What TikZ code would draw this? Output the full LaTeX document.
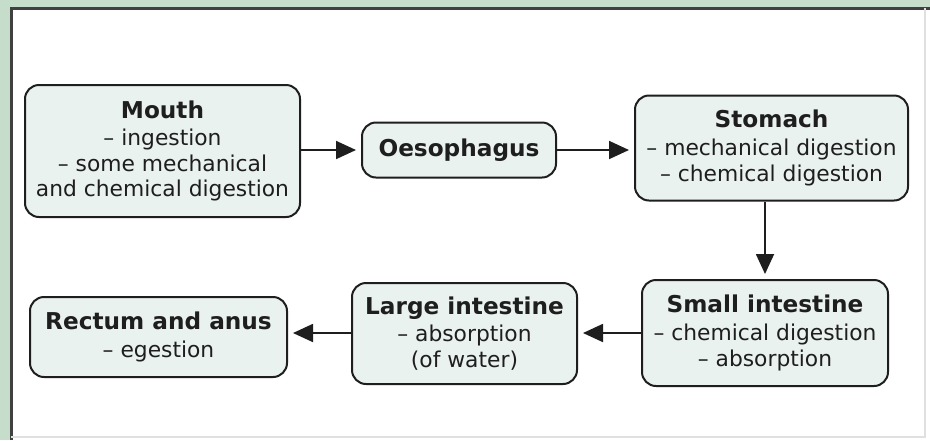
\documentclass[tikz,border=0pt]{standalone}
\usepackage{fontspec}
\setmainfont{DejaVu Sans}
\usetikzlibrary{arrows.meta}

\newcommand{\organname}[1]{{\bfseries\fontsize{11.6}{13.4}\selectfont #1}}

\begin{document}
\begin{tikzpicture}[x=0.5pt,y=-0.5pt]
  \definecolor{sage}{HTML}{C6DDCC}
  \definecolor{mint}{HTML}{EAF2EF}
  \definecolor{ink}{HTML}{1E1E1E}
  \tikzset{
    organ/.style={draw=ink,line width=1pt,fill=mint,rounded corners=7pt,
      align=center,inner sep=0pt,text=ink,
      font=\fontsize{10.9}{12.8}\selectfont},
    flow/.style={draw=ink,line width=0.9pt,
      -{Triangle[length=10pt,width=9pt]},shorten >=2.5pt}
  }

  % frame
  \useasboundingbox (0,0) rectangle (930,440);
  \fill[sage] (0,0) rectangle (930,440);
  \fill[white] (11,8) rectangle (930,440);
  \draw[black!75,line width=1.5pt] (11,440) -- (11,8) -- (930,8);
  \draw[black!12,line width=0.8pt] (925,8) -- (925,437) -- (11,437);

  % organs
  \node[organ,minimum width=137.5pt,minimum height=66pt] (mouth) at (162.5,151)
    {\organname{Mouth}\\[1pt] – ingestion\\ – some mechanical\\ and chemical digestion};
  \node[organ,minimum width=97pt,minimum height=27.5pt] (oes) at (459,150)
    {\organname{Oesophagus}};
  \node[organ,minimum width=136.5pt,minimum height=52.5pt] (stomach) at (771.5,148)
    {\organname{Stomach}\\[1pt] – mechanical digestion\\ – chemical digestion};
  \node[organ,minimum width=123pt,minimum height=53pt] (small) at (765,333)
    {\organname{Small intestine}\\[1pt] – chemical digestion\\ – absorption};
  \node[organ,minimum width=112.5pt,minimum height=50.5pt] (large) at (464.5,333.5)
    {\organname{Large intestine}\\[1pt] – absorption\\ (of water)};
  \node[organ,minimum width=128.5pt,minimum height=40pt] (rectum) at (158.5,337)
    {\organname{Rectum and anus}\\[1pt] – egestion};

  % arrows
  \draw[flow] (mouth.east |- oes.west) -- (oes.west);
  \draw[flow] (oes.east) -- (oes.east -| stomach.west);
  \draw[flow] (stomach.south -| small.north) -- (small.north);
  \draw[flow] (small.west) -- (small.west -| large.east);
  \draw[flow] (large.west |- small.west) -- (rectum.east |- small.west);
\end{tikzpicture}
\end{document}
